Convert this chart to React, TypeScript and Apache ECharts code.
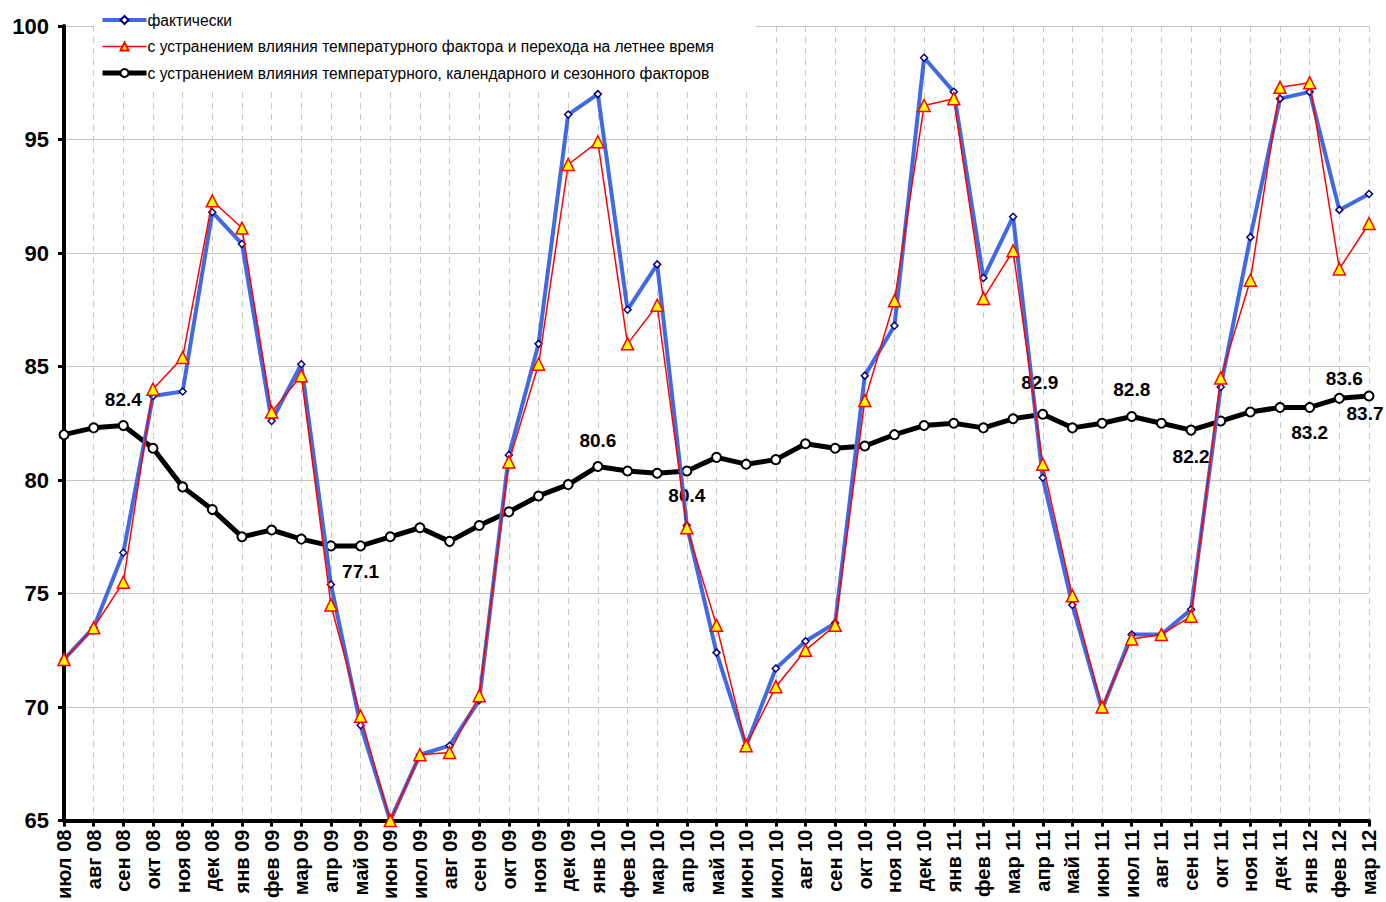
import React, { useEffect, useRef } from "react";
import * as echarts from "echarts";

const months = ["июл 08","авг 08","сен 08","окт 08","ноя 08","дек 08","янв 09","фев 09","мар 09","апр 09","май 09","июн 09","июл 09","авг 09","сен 09","окт 09","ноя 09","дек 09","янв 10","фев 10","мар 10","апр 10","май 10","июн 10","июл 10","авг 10","сен 10","окт 10","ноя 10","дек 10","янв 11","фев 11","мар 11","апр 11","май 11","июн 11","июл 11","авг 11","сен 11","окт 11","ноя 11","дек 11","янв 12","фев 12","мар 12"];

const actual = [72.1,73.5,76.8,83.7,83.9,91.8,90.4,82.6,85.1,75.4,69.2,65.0,67.9,68.3,70.3,81.1,86.0,96.1,97.0,87.5,89.5,78.0,72.4,68.3,71.7,72.9,73.7,84.6,86.8,98.6,97.1,88.9,91.6,80.1,74.5,69.9,73.2,73.2,74.3,84.1,90.7,96.8,97.1,91.9,92.6];

const adjustedTemp = [72.1,73.5,75.5,84.0,85.4,92.3,91.1,83.0,84.6,74.5,69.6,65.0,67.9,68.0,70.5,80.8,85.1,93.9,94.9,86.0,87.7,77.9,73.6,68.3,70.9,72.5,73.6,83.5,87.9,96.5,96.8,88.0,90.1,80.7,74.9,70.0,73.0,73.2,74.0,84.5,88.8,97.3,97.5,89.3,91.3];

const adjustedSeasonal = [82.0,82.3,82.4,81.4,79.7,78.7,77.5,77.8,77.4,77.1,77.1,77.5,77.9,77.3,78.0,78.6,79.3,79.8,80.6,80.4,80.3,80.4,81.0,80.7,80.9,81.6,81.4,81.5,82.0,82.4,82.5,82.3,82.7,82.9,82.3,82.5,82.8,82.5,82.2,82.6,83.0,83.2,83.2,83.6,83.7];

const seriesNames = [
  "фактически",
  "с устранением влияния температурного фактора и перехода на летнее время",
  "с устранением влияния температурного, календарного и сезонного факторов",
];

// indices of the seasonally-adjusted points that carry a value label
const labeledIdx = [2, 10, 18, 21, 33, 36, 38, 42, 43, 44];
// label placement for each labeled index (style only)
const labelPlacement: Record<number, { pos: string; dist: number; dx: number }> = {
  2: { pos: "top", dist: 11, dx: 0 },
  10: { pos: "bottom", dist: 11, dx: 0 },
  18: { pos: "top", dist: 11, dx: 0 },
  21: { pos: "bottom", dist: 10, dx: 0 },
  33: { pos: "top", dist: 17, dx: -3 },
  36: { pos: "top", dist: 12, dx: 0 },
  38: { pos: "bottom", dist: 11, dx: 0 },
  42: { pos: "bottom", dist: 10, dx: 0 },
  43: { pos: "top", dist: 5, dx: 5 },
  44: { pos: "bottom", dist: 2, dx: -4 },
};

const FONT = "'Liberation Sans', Arial, Helvetica, sans-serif";

export default function App() {
  const ref = useRef<HTMLDivElement>(null);
  useEffect(() => {
    if (!ref.current) return;
    const chart = echarts.init(ref.current, undefined, { renderer: "svg" });
    const seasonalData = adjustedSeasonal.map((v, i) => {
      if (!labeledIdx.includes(i)) return v;
      const p = labelPlacement[i];
      return {
        value: v,
        label: {
          show: true,
          position: p.pos,
          distance: p.dist,
          offset: [p.dx, 0],
          formatter: (q: any) => Number(q.value).toFixed(1),
          fontFamily: FONT,
          fontWeight: "bold",
          fontSize: 19,
          color: "#000",
        },
      };
    });
    chart.setOption({
      animation: false,
      backgroundColor: "#fff",
      grid: { left: 64, right: 17, top: 26, bottom: 79, containLabel: false },
      legend: {
        data: [
          { name: seriesNames[0], lineStyle: { width: 4, color: "#4169E1" } },
          { name: seriesNames[1], lineStyle: { width: 1.5, color: "#ff0000" } },
          { name: seriesNames[2], lineStyle: { width: 5, color: "#000" } },
        ],
        orient: "vertical",
        left: 94,
        top: 6,
        itemWidth: 44,
        itemHeight: 10,
        itemGap: 10.5,
        backgroundColor: "#fff",
        padding: [6, 42, 6, 6],
        textStyle: { fontFamily: FONT, fontSize: 15.6, color: "#000", padding: [0, 0, 0, -4] },
      },
      xAxis: {
        type: "category",
        data: months,
        boundaryGap: false,
        axisLine: { show: true, lineStyle: { color: "#000", width: 4 } },
        axisTick: { show: true, interval: 0, length: 6, lineStyle: { color: "#000", width: 3 } },
        axisLabel: {
          interval: 0,
          rotate: 90,
          margin: 9,
          fontFamily: FONT,
          fontWeight: "bold",
          fontSize: 20,
          color: "#000",
        },
        splitLine: {
          show: true,
          interval: 0,
          lineStyle: { color: "#c8c8c8", width: 1, type: [6, 5] },
        },
      },
      yAxis: {
        type: "value",
        min: 65,
        max: 100,
        interval: 5,
        axisLine: { show: true, lineStyle: { color: "#000", width: 4 } },
        axisTick: { show: true, length: 6, lineStyle: { color: "#000", width: 3 } },
        axisLabel: {
          margin: 15,
          fontFamily: FONT,
          fontWeight: "bold",
          fontSize: 22,
          color: "#000",
        },
        splitLine: { show: true, lineStyle: { color: "#c4c4c4", width: 1 } },
      },
      series: [
        {
          name: seriesNames[2],
          type: "line",
          data: seasonalData,
          z: 2,
          symbol: "circle",
          symbolSize: 9,
          showAllSymbol: true,
          lineStyle: { color: "#000", width: 5 },
          itemStyle: { color: "#fff", borderColor: "#000", borderWidth: 2 },
        },
        {
          name: seriesNames[0],
          type: "line",
          data: actual,
          z: 3,
          symbol: "diamond",
          symbolSize: 7,
          showAllSymbol: true,
          lineStyle: { color: "#4169E1", width: 4 },
          itemStyle: { color: "#fff", borderColor: "#000080", borderWidth: 1.5 },
        },
        {
          name: seriesNames[1],
          type: "line",
          data: adjustedTemp,
          z: 4,
          symbol: "triangle",
          symbolSize: 12,
          showAllSymbol: true,
          lineStyle: { color: "#ff0000", width: 1.5 },
          itemStyle: { color: "#ffff00", borderColor: "#ff0000", borderWidth: 1.5 },
        },
      ],
    });
    return () => chart.dispose();
  }, []);
  return (
    <div
      ref={ref}
      style={{ position: "fixed", left: 0, top: 0, width: 1386, height: 902 }}
    />
  );
}
